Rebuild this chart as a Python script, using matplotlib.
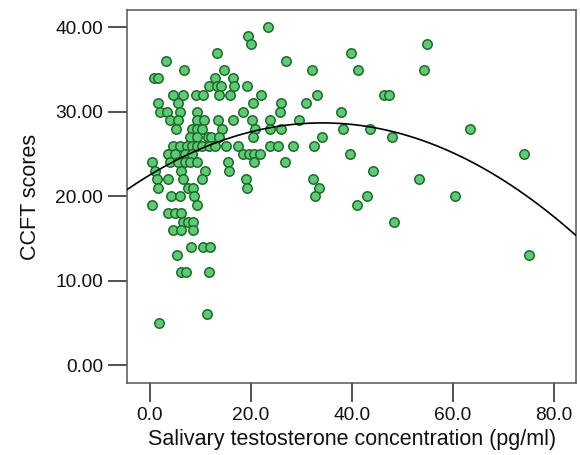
import numpy as np
import matplotlib
matplotlib.use("Agg")
import matplotlib.pyplot as plt

# CCFT score rows and the testosterone values (pg/ml) of the subjects on each row
scores = [40, 39, 38, 37, 36, 35, 34, 33, 32, 31, 30, 29, 28, 27, 26,
          25, 24, 23, 22, 21, 20, 19, 18, 17, 16, 14, 13, 11, 6, 5]
conc_rows = [
    [23.5],
    [19.5],
    [20.1, 54.8],
    [13.3, 39.9],
    [3.3, 27.0],
    [6.8, 14.7, 32.1, 41.2, 54.2],
    [0.9, 1.7, 13.0, 16.5],
    [11.7, 13.3, 14.1, 16.7, 19.2],
    [4.7, 6.6, 9.1, 10.5, 13.8, 15.9, 22.0, 33.1, 46.4, 47.3],
    [1.6, 5.7, 20.5, 26.0, 31.0],
    [2.1, 3.4, 6.1, 9.3, 18.5, 25.8, 37.9],
    [4.1, 5.7, 9.3, 10.7, 13.6, 16.4, 20.2, 23.8, 29.5],
    [5.3, 8.4, 9.3, 10.3, 14.3, 20.8, 23.9, 26.0, 38.3, 43.5, 63.4],
    [7.9, 9.3, 11.5, 12.2, 13.7, 20.4, 34.1, 47.9],
    [4.7, 6.1, 7.4, 8.4, 9.4, 10.4, 11.8, 12.9, 15.1, 17.4, 23.8, 25.4, 28.3, 32.5],
    [3.7, 5.1, 7.0, 8.4, 18.4, 19.7, 20.7, 21.8, 39.6, 74.0],
    [0.5, 4.0, 5.7, 7.0, 8.0, 9.3, 15.6, 20.6, 26.7],
    [1.1, 6.3, 11.0, 15.7, 44.1],
    [1.5, 3.6, 6.6, 10.3, 19.0, 32.4, 53.3],
    [1.7, 7.6, 8.5, 19.3, 33.5],
    [4.2, 6.0, 8.8, 32.7, 42.9, 60.3],
    [0.55, 9.3, 41.0],
    [3.7, 5.1, 6.3],
    [6.6, 7.5, 8.5, 48.3],
    [4.6, 6.2, 8.6],
    [8.1, 10.5, 12.0],
    [5.5, 75.0],
    [6.2, 7.2, 11.8],
    [11.3],
    [1.95],
]

# quadratic fit line: y = c2*x^2 + c1*x + c0
fit_coef = [-0.0053, 0.362, 22.5]

x_ticks = [0, 20, 40, 60, 80]
y_ticks = [0, 10, 20, 30, 40]

conc = np.concatenate([np.array(r, float) for r in conc_rows])
ccft = np.concatenate([np.full(len(r), s, float) for r, s in zip(conc_rows, scores)])

plt.rcParams["font.family"] = ["Liberation Sans", "DejaVu Sans"]

fig = plt.figure(figsize=(5.8, 4.55), dpi=100)
ax = fig.add_axes([0.2195, 0.1576, 0.7736, 0.8204])

ax.scatter(conc, ccft, s=46, facecolor="#5fca74", edgecolor="#1d6b2c",
           linewidth=1.1, zorder=3)

xlim = (-4.4, 84.3)
xs = np.linspace(*xlim, 300)
ax.plot(xs, np.polyval(fit_coef, xs), color="black", lw=1.2, zorder=4)

ax.set_xlim(*xlim)
ax.set_ylim(-2.15, 42.05)
ax.set_xticks(x_ticks)
ax.set_xticklabels([f"{v:.1f}" for v in x_ticks])
ax.set_yticks(y_ticks)
ax.set_yticklabels([f"{v:.2f}" for v in y_ticks])

for sp in ax.spines.values():
    sp.set_color("#555555")
    sp.set_linewidth(1.1)

ax.tick_params(axis="both", direction="out", length=14, width=1.1,
               color="#222222", labelsize=13.8, labelcolor="#111111")
ax.tick_params(axis="y", pad=3.5)
ax.tick_params(axis="x", pad=3)

ax.set_xlabel("Salivary testosterone concentration (pg/ml)", fontsize=15.5,
              color="#111111", labelpad=4)
ax.set_ylabel("CCFT scores", fontsize=15.5, color="#111111", labelpad=10)

fig.savefig("out.png", dpi=100)
